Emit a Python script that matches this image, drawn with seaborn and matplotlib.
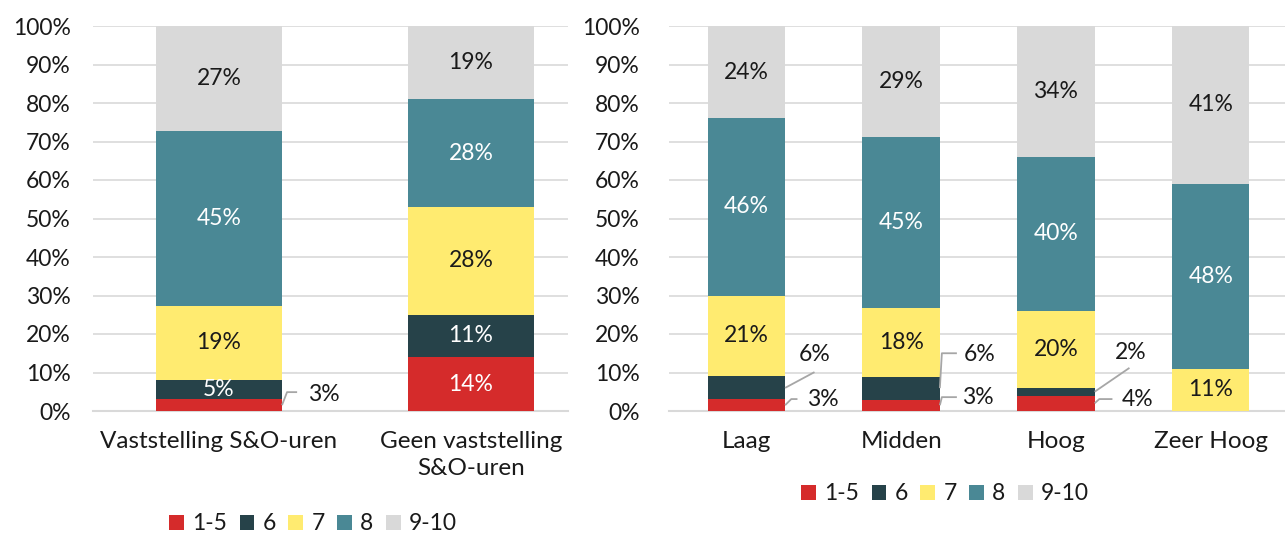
import matplotlib
matplotlib.use("Agg")
import matplotlib.pyplot as plt
from matplotlib.patches import Patch
import numpy as np
import pandas as pd
import seaborn as sns

# ---- data -------------------------------------------------------------
scores = ["1-5", "6", "7", "8", "9-10"]

left_cats = ["Vaststelling S&O-uren", "Geen vaststelling\nS&O-uren"]
left_1_5 = [3, 14]
left_6 = [5, 11]
left_7 = [19, 28]
left_8 = [45, 28]
left_9_10 = [27, 19]

right_cats = ["Laag", "Midden", "Hoog", "Zeer Hoog"]
right_1_5 = [3, 3, 4, 0]
right_6 = [6, 6, 2, 0]
right_7 = [21, 18, 20, 11]
right_8 = [46, 45, 40, 48]
right_9_10 = [24, 29, 34, 41]

y_ticks = [0, 10, 20, 30, 40, 50, 60, 70, 80, 90, 100]
y_tick_labels = [f"{t}%" for t in y_ticks]

# ---- style ------------------------------------------------------------
colors = ["#D52B2B", "#264249", "#FFEB70", "#4A8895", "#D9D9D9"]
label_colors = ["white", "white", "#1A1A1A", "white", "#1A1A1A"]
text_color = "#1A1A1A"
grid_color = "#D9D9D9"
leader_color = "#A6A6A6"
fs = 16.5        # tick, value and legend text
fs_cat = 17.5    # category labels

sns.set_theme(style="white")
plt.rcParams["font.family"] = ["Lato", "DejaVu Sans"]
plt.rcParams["text.color"] = text_color
plt.rcParams["xtick.color"] = text_color
plt.rcParams["ytick.color"] = text_color

# callouts for thin segments: (category index, series index) ->
# [bend point, end point, label centre]; x relative to bar centre
left_callouts = {
    (0, 0): [(0.27, 4.9), (0.31, 4.9), (0.415, 4.4)],
}
right_callouts = {
    (0, 1): [(0.44, 10.1), (0.44, 10.1), (0.44, 14.6)],
    (0, 0): [(0.29, 3.1), (0.33, 3.1), (0.495, 2.9)],
    (1, 1): [(0.263, 15.0), (0.36, 15.0), (0.51, 14.6)],
    (1, 0): [(0.263, 3.6), (0.36, 3.6), (0.495, 3.4)],
    (2, 1): [(0.475, 11.2), (0.475, 11.2), (0.48, 15.3)],
    (2, 0): [(0.28, 3.1), (0.365, 3.1), (0.53, 2.9)],
}

fig = plt.figure(figsize=(12.85, 5.37), dpi=100)
ax_l = fig.add_axes([93 / 1285, 126 / 537, 475 / 1285, 385 / 537])
ax_r = fig.add_axes([669 / 1285, 126 / 537, 616 / 1285, 385 / 537])

bar_width = 0.5


def draw_panel(ax, cats, series, callouts, xlim, ypad):
    data = np.array(series, dtype=float)  # shape (5, n)
    # 100% stacked: each bar scaled to its own total
    shares = data / data.sum(axis=0) * 100
    cum = np.cumsum(shares, axis=0)
    # stacked bars: draw cumulative totals from the top series down
    for k in reversed(range(len(scores))):
        df = pd.DataFrame({"cat": cats, "val": cum[k]})
        sns.barplot(data=df, x="cat", y="val", order=cats, color=colors[k],
                    saturation=1, width=bar_width, errorbar=None, ax=ax,
                    linewidth=0, zorder=2)
    # value labels
    for i in range(len(cats)):
        for k in range(len(scores)):
            v = data[k, i]
            if v <= 0:
                continue
            mid = cum[k, i] - shares[k, i] / 2
            txt = f"{int(v)}%"
            if (i, k) in callouts:
                (bx, by), (ex, ey), (lx, ly) = callouts[(i, k)]
                xs = [i + bar_width / 2, i + bx, i + ex]
                ys = [mid, by, ey]
                ax.plot(xs, ys, color=leader_color, lw=1.3, zorder=3,
                        solid_capstyle="butt")
                ax.text(i + lx, ly, txt, ha="center", va="center",
                        fontsize=fs, color=text_color, zorder=4)
            else:
                ax.text(i, mid, txt, ha="center", va="center",
                        fontsize=fs, color=label_colors[k], zorder=4)
    ax.set_xlim(*xlim)
    ax.set_ylim(0, 100)
    ax.set_yticks(y_ticks)
    ax.set_yticklabels(y_tick_labels, fontsize=fs)
    ax.set_xlabel("")
    ax.set_ylabel("")
    ax.grid(axis="y", color=grid_color, lw=1.2, zorder=0)
    ax.grid(axis="x", visible=False)
    ax.set_axisbelow(True)
    for side in ["left", "right", "top"]:
        ax.spines[side].set_visible(False)
    ax.spines["bottom"].set_color(grid_color)
    ax.spines["bottom"].set_linewidth(1.5)
    ax.spines["bottom"].set_zorder(1)
    ax.tick_params(axis="y", length=0, pad=ypad)
    ax.tick_params(axis="x", length=0, pad=14.5, labelsize=fs_cat)
    for t in ax.get_xticklabels():
        t.set_linespacing(1.35)


draw_panel(ax_l, left_cats,
           [left_1_5, left_6, left_7, left_8, left_9_10],
           left_callouts, (-0.5, 1.385), 16)
draw_panel(ax_r, right_cats,
           [right_1_5, right_6, right_7, right_8, right_9_10],
           right_callouts, (-0.5, 3.48), 21)

handles = [Patch(facecolor=c, edgecolor="none") for c in colors]
leg_kw = dict(ncol=5, frameon=False, fontsize=fs, handlelength=0.65,
              handleheight=0.65, handletextpad=0.35, columnspacing=0.55,
              loc="center")
fig.legend(handles, scores, bbox_to_anchor=(313 / 1285, 1 - 524 / 537), **leg_kw)
fig.legend(handles, scores, bbox_to_anchor=(945 / 1285, 1 - 494 / 537), **leg_kw)

fig.savefig("out.png", dpi=100)
